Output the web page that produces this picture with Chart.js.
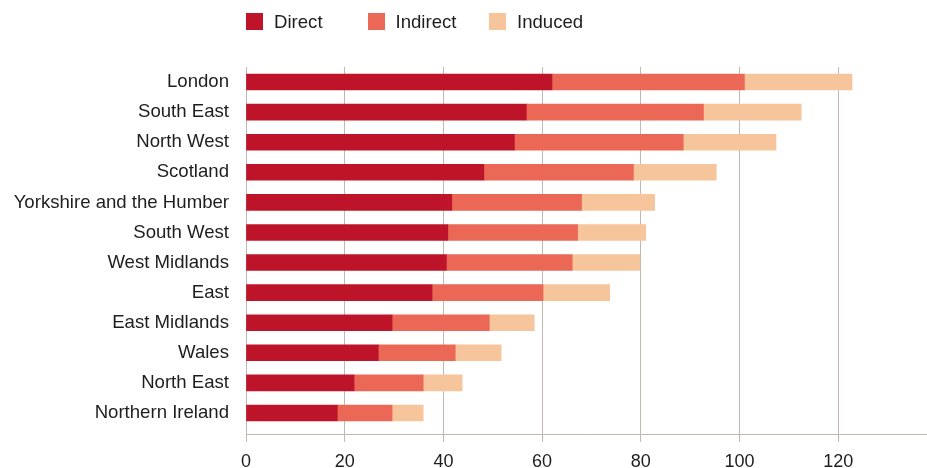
<!DOCTYPE html>
<html>
<head>
<meta charset="utf-8">
<script src="https://cdn.jsdelivr.net/npm/chart.js@4.4.1/dist/chart.umd.min.js"></script>
<style>
  body { margin: 0; background: #fff; font-family: "Liberation Sans", Arial, sans-serif; }
  #wrap { position: relative; width: 927px; height: 468px; }
  #legend { position: absolute; left: 246px; top: 13px; display: flex; }
  .item { width: 121.5px; height: 17px; display: flex; align-items: center; font-size: 18.6px; color: #1e1e1e; }
  .swatch { width: 17px; height: 17px; margin-right: 11px; flex: none; }
</style>
</head>
<body>
<div id="wrap">
  <canvas id="regionChart" width="927" height="468"></canvas>
  <div id="legend"></div>
</div>
<script>
// regions, top to bottom
const regions = ['London', 'South East', 'North West', 'Scotland', 'Yorkshire and the Humber', 'South West',
  'West Midlands', 'East', 'East Midlands', 'Wales', 'North East', 'Northern Ireland'];

const seriesNames = ['Direct', 'Indirect', 'Induced'];
const directValues = [62.0, 56.8, 54.4, 48.2, 41.7, 40.9, 40.6, 37.7, 29.6, 26.8, 21.9, 18.5];
const indirectValues = [39.0, 35.9, 34.2, 30.3, 26.3, 26.3, 25.5, 22.5, 19.7, 15.6, 14.0, 11.1];
const inducedValues = [21.8, 19.8, 18.8, 16.8, 14.8, 13.8, 13.7, 13.5, 9.1, 9.3, 7.9, 6.3];
const xTicks = [0, 20, 40, 60, 80, 100, 120];

const colours = ['#be1429', '#eb6856', '#f6c59b'];
const gridColour = '#c2b8b2';

Chart.defaults.font.family = '"Liberation Sans", Arial, sans-serif';
Chart.defaults.font.size = 18;
Chart.defaults.color = '#1e1e1e';

// the bottom axis line sits a little below the last bar band
const axisLine = {
  id: 'axisLine',
  beforeDatasetsDraw(chart) {
    const { ctx, chartArea } = chart;
    ctx.save();
    ctx.strokeStyle = gridColour;
    ctx.lineWidth = 1;
    ctx.beginPath();
    ctx.moveTo(chartArea.left, chartArea.bottom + 6.5);
    ctx.lineTo(chartArea.right, chartArea.bottom + 6.5);
    ctx.stroke();
    ctx.restore();
  }
};

const allValues = [directValues, indirectValues, inducedValues];

const chart = new Chart(document.getElementById('regionChart'), {
  type: 'bar',
  data: {
    labels: regions,
    datasets: seriesNames.map((name, i) => ({
      label: name,
      data: allValues[i],
      backgroundColor: colours[i],
      borderWidth: 0,
      barThickness: 16
    }))
  },
  options: {
    indexAxis: 'y',
    responsive: false,
    animation: false,
    devicePixelRatio: 1,
    layout: { padding: { top: 67, left: 0, right: 0, bottom: 0 } },
    plugins: {
      legend: { display: false },
      tooltip: { enabled: false }
    },
    scales: {
      x: {
        stacked: true,
        min: 0,
        max: 138,
        afterBuildTicks: (scale) => {
          scale.ticks = xTicks.map(v => ({ value: v }));
        },
        afterFit: (scale) => { scale.height = 40; },
        grid: { color: gridColour, lineWidth: 1, tickLength: 14, drawTicks: true },
        border: { display: false },
        ticks: { padding: 9, color: '#1e1e1e', font: { size: 18 } }
      },
      y: {
        stacked: true,
        afterFit: (scale) => { scale.width = 246; },
        grid: { display: false, drawTicks: false },
        border: { display: false },
        ticks: { autoSkip: false, padding: 17, color: '#1e1e1e', font: { size: 18.6 } }
      }
    }
  },
  plugins: [axisLine]
});

// legend built from the same series names and colours
const legendEl = document.getElementById('legend');
chart.data.datasets.forEach((ds) => {
  const item = document.createElement('div');
  item.className = 'item';
  const sw = document.createElement('span');
  sw.className = 'swatch';
  sw.style.background = ds.backgroundColor;
  const txt = document.createElement('span');
  txt.textContent = ds.label;
  item.appendChild(sw);
  item.appendChild(txt);
  legendEl.appendChild(item);
});
</script>
</body>
</html>
